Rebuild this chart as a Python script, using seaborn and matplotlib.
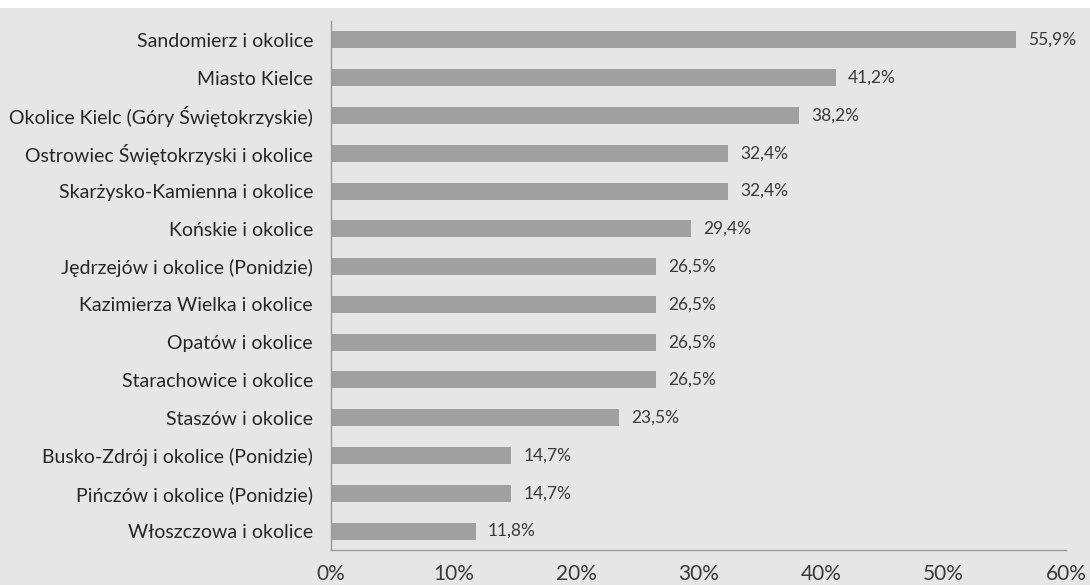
import matplotlib
matplotlib.use("Agg")
import matplotlib.pyplot as plt
import seaborn as sns
import pandas as pd

categories = [
    "Sandomierz i okolice",
    "Miasto Kielce",
    "Okolice Kielc (Góry Świętokrzyskie)",
    "Ostrowiec Świętokrzyski i okolice",
    "Skarżysko-Kamienna i okolice",
    "Końskie i okolice",
    "Jędrzejów i okolice (Ponidzie)",
    "Kazimierza Wielka i okolice",
    "Opatów i okolice",
    "Starachowice i okolice",
    "Staszów i okolice",
    "Busko-Zdrój i okolice (Ponidzie)",
    "Pińczów i okolice (Ponidzie)",
    "Włoszczowa i okolice",
]
values = [55.9, 41.2, 38.2, 32.4, 32.4, 29.4, 26.5, 26.5, 26.5, 26.5, 23.5, 14.7, 14.7, 11.8]
x_ticks = [0, 10, 20, 30, 40, 50, 60]

df = pd.DataFrame({"region": categories, "pct": values})

sns.set_style("white")
plt.rcParams["font.family"] = ["Lato", "DejaVu Sans"]

bg = "#e6e6e6"
fig = plt.figure(figsize=(10.9, 5.85), dpi=100)
fig.patch.set_facecolor("white")
# grey panel below a thin white strip, as in the source
fig.add_artist(plt.Rectangle((0, 0), 1, 1 - 8 / 585, transform=fig.transFigure,
                             facecolor=bg, edgecolor="none", zorder=-10))
ax = fig.add_axes([331 / 1090, 1 - 550 / 585, (1066 - 331) / 1090, (550 - 21) / 585])
ax.set_facecolor(bg)

sns.barplot(data=df, x="pct", y="region", color="#a0a0a0", width=0.45,
            saturation=1, linewidth=0, ax=ax, orient="h")

for i, v in enumerate(values):
    ax.text(v + 1.0, i, ("%.1f%%" % v).replace(".", ","), va="center", ha="left",
            fontsize=12.5, color="#3a3a3a")

ax.set_xlim(0, 60)
ax.set_ylim(len(categories) - 0.5, -0.5)
ax.set_xticks(x_ticks)
ax.set_xticklabels([f"{t}%" for t in x_ticks], fontsize=15, color="#3a3a3a")
ax.tick_params(axis="x", direction="in", length=5, color="#999999", pad=10)
ax.set_yticks(range(len(categories)))
ax.set_yticklabels(categories, fontsize=14, color="#262626")
ax.set_yticks([i + 0.5 for i in range(-1, len(categories))], minor=True)
ax.tick_params(axis="y", which="major", length=0, pad=13)
ax.tick_params(axis="y", which="minor", direction="out", length=5, color="#999999")
ax.set_xlabel("")
ax.set_ylabel("")
for s in ["top", "right"]:
    ax.spines[s].set_visible(False)
for s in ["left", "bottom"]:
    ax.spines[s].set_color("#999999")
    ax.spines[s].set_linewidth(1)

fig.savefig("out.png", dpi=100, facecolor=fig.get_facecolor())
